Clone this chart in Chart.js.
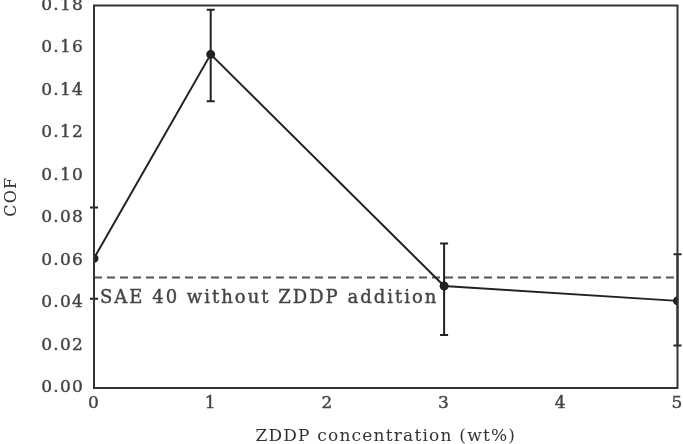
<!DOCTYPE html>
<html>
<head>
<meta charset="utf-8">
<script src="https://cdn.jsdelivr.net/npm/chart.js@4.4.1/dist/chart.umd.min.js"></script>
<style>
  html, body { margin: 0; padding: 0; background: #fff; }
  #wrap { width: 683px; height: 444px; }
</style>
</head>
<body>
<div id="wrap"><canvas id="cof-chart"></canvas></div>
<script>
// ── DATA ──
const zddpConc  = [0, 1, 3, 5];                  // wt%
const cofMean   = [0.061, 0.157, 0.048, 0.041];
const cofLow    = [0.042, 0.135, 0.025, 0.020];
const cofHigh   = [0.085, 0.178, 0.068, 0.063];
const baseCof   = 0.052;                         // SAE 40, no ZDDP
const baseLabel = 'SAE 40 without ZDDP addition';
const xTicks    = [0, 1, 2, 3, 4, 5];
const yTicks    = [0.00, 0.02, 0.04, 0.06, 0.08, 0.10, 0.12, 0.14, 0.16, 0.18];

// ── STYLE ──
const SERIF = "'DejaVu Serif', 'Liberation Serif', serif";
const INK   = '#222222';
const TXT   = '#444444';
const SPACING = '1.2px';

// letterSpacing lives in ctx state, which resets on resize
const spacing = {
  id: 'spacing',
  beforeLayout: c => { c.ctx.letterSpacing = SPACING; },
  beforeDraw:   c => { c.ctx.letterSpacing = SPACING; }
};

// ── FRAME, ERROR BARS, BASELINE LABEL ──
const extras = {
  id: 'extras',
  afterDatasetsDraw(chart) {
    const { ctx, chartArea: a, scales: { x, y } } = chart;
    ctx.save();
    ctx.strokeStyle = INK;
    ctx.lineWidth = 2;
    zddpConc.forEach((c, i) => {
      const px = x.getPixelForValue(c);
      const lo = y.getPixelForValue(cofLow[i]);
      const hi = y.getPixelForValue(cofHigh[i]);
      ctx.beginPath();
      ctx.moveTo(px, lo); ctx.lineTo(px, hi);
      ctx.moveTo(px - 4, lo); ctx.lineTo(px + 4, lo);
      ctx.moveTo(px - 4, hi); ctx.lineTo(px + 4, hi);
      ctx.stroke();
    });
    // frame
    ctx.strokeStyle = '#333';
    ctx.strokeRect(a.left, a.top, a.right - a.left, a.bottom - a.top);
    // baseline label
    ctx.letterSpacing = '2px';
    ctx.fillStyle = TXT;
    ctx.strokeStyle = TXT;
    ctx.lineWidth = 0.4;
    ctx.font = '18px ' + SERIF;
    ctx.textBaseline = 'middle';
    ctx.textAlign = 'left';
    const ly = y.getPixelForValue(baseCof) + 21;
    ctx.fillText(baseLabel, a.left + 6, ly);
    ctx.strokeText(baseLabel, a.left + 6, ly);
    ctx.restore();
  }
};

new Chart(document.getElementById('cof-chart'), {
  type: 'scatter',
  data: {
    datasets: [
      {
        label: 'COF',
        data: zddpConc.map((c, i) => ({ x: c, y: cofMean[i] })),
        showLine: true,
        borderColor: INK,
        backgroundColor: INK,
        borderWidth: 2,
        pointRadius: 3.5,
        pointHoverRadius: 3.5,
        tension: 0,
        order: 1
      },
      {
        label: baseLabel,
        data: [{ x: xTicks[0], y: baseCof }, { x: xTicks[xTicks.length - 1], y: baseCof }],
        showLine: true,
        borderColor: '#555555',
        borderWidth: 2,
        borderDash: [8, 5],
        pointRadius: 0,
        order: 2
      }
    ]
  },
  options: {
    responsive: true,
    maintainAspectRatio: false,
    animation: false,
    layout: { padding: { left: 0, right: 4, top: 5, bottom: 0 } },
    plugins: { legend: { display: false }, tooltip: { enabled: false } },
    scales: {
      x: {
        type: 'linear',
        min: xTicks[0],
        max: xTicks[xTicks.length - 1],
        afterBuildTicks: s => { s.ticks = xTicks.map(v => ({ value: v })); },
        afterFit: s => { s.height = 56; s.paddingLeft = 0; s.paddingRight = 0; },
        grid: { display: false, drawTicks: false },
        border: { display: true, color: '#333', width: 2 },
        ticks: {
          color: TXT, padding: 5, textStrokeColor: TXT, textStrokeWidth: 0.4,
          font: { family: SERIF, size: 17 }
        },
        title: {
          display: true,
          text: 'ZDDP concentration (wt%)',
          color: '#333',
          font: { family: SERIF, size: 17, lineHeight: 1 },
          padding: { top: 0, bottom: -1 }
        }
      },
      y: {
        min: yTicks[0],
        max: yTicks[yTicks.length - 1],
        afterBuildTicks: s => { s.ticks = yTicks.map(v => ({ value: v })); },
        afterFit: s => { s.width = 94; s.paddingTop = 0; s.paddingBottom = 0; },
        grid: { display: false, drawTicks: false },
        border: { display: true, color: '#333', width: 2 },
        ticks: {
          color: TXT, padding: 10, textStrokeColor: TXT, textStrokeWidth: 0.4,
          font: { family: SERIF, size: 17 },
          callback: v => v.toFixed(2)
        },
        title: {
          display: true,
          text: 'COF',
          color: '#333',
          font: { family: SERIF, size: 16, lineHeight: 1 },
          padding: { top: 4, bottom: 0 }
        }
      }
    }
  },
  plugins: [spacing, extras]
});
</script>
</body>
</html>
